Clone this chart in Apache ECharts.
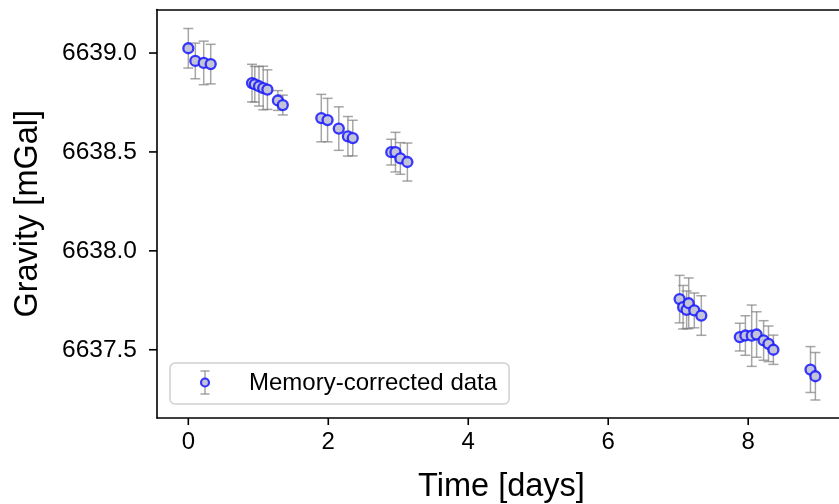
<!DOCTYPE html>
<html>
<head>
<meta charset="utf-8">
<script src="https://cdn.jsdelivr.net/npm/echarts@6/dist/echarts.min.js"></script>
<style>
html,body{margin:0;padding:0;background:#fff;overflow:hidden;}
#chart{width:860px;height:504px;}
</style>
</head>
<body>
<div id="chart"></div>
<script>
// ---- data ----
const timeDays = [0.00, 0.10, 0.22, 0.32, 0.91, 0.95, 1.01, 1.07, 1.13, 1.28, 1.35,
  1.90, 1.99, 2.15, 2.28, 2.35, 2.90, 2.96, 3.03, 3.13,
  7.02, 7.07, 7.12, 7.15, 7.23, 7.33, 7.88, 7.96, 8.05, 8.12, 8.22, 8.29, 8.36, 8.89, 8.96];
const gravity = [6639.024, 6638.960, 6638.950, 6638.944, 6638.848, 6638.842, 6638.832, 6638.823, 6638.815, 6638.760, 6638.737,
  6638.671, 6638.661, 6638.618, 6638.579, 6638.570, 6638.499, 6638.499, 6638.467, 6638.449,
  6637.756, 6637.715, 6637.702, 6637.735, 6637.699, 6637.673, 6637.564, 6637.572, 6637.571, 6637.577, 6637.547, 6637.530, 6637.500, 6637.400, 6637.366];
const gravityErr = [0.10, 0.09, 0.11, 0.10, 0.095, 0.09, 0.10, 0.11, 0.10, 0.05, 0.05,
  0.12, 0.11, 0.11, 0.10, 0.09, 0.065, 0.10, 0.08, 0.096,
  0.12, 0.11, 0.095, 0.128, 0.088, 0.10, 0.07, 0.10, 0.155, 0.115, 0.10, 0.09, 0.074, 0.116, 0.12];
const xTicks = [0, 2, 4, 6, 8];
const yTicks = [6637.5, 6638.0, 6638.5, 6639.0];
const seriesName = 'Memory-corrected data';
const xLabel = 'Time [days]';
const yLabel = 'Gravity [mGal]';

const FONT = 'Liberation Sans, Arial, sans-serif';
const X_MIN = -0.4475, X_MAX = 9.3975, Y_MIN = 6637.155, Y_MAX = 6639.22;
const pts = timeDays.map((t, i) => [t, gravity[i]]);
const errData = timeDays.map((t, i) => [t, gravity[i], gravityErr[i]]);
const xTickData = xTicks.map(v => [v, Y_MIN]);
const yTickData = yTicks.map(v => [X_MIN, v]);
const ERR_COLOR = 'rgba(128,128,128,0.7)';
const FACE = '#c4c4d8';
const EDGE = 'rgba(25,25,255,0.85)';
const TICK_STYLE = {stroke: '#000', lineWidth: 1.6};

const chart = echarts.init(document.getElementById('chart'), null, {renderer: 'canvas'});
chart.setOption({
  animation: false,
  backgroundColor: '#fff',
  grid: {left: 157, top: 9.5, width: 689, height: 408.5, show: false, containLabel: false, outerBoundsMode: 'none'},
  xAxis: [{
    type: 'value', min: X_MIN, max: X_MAX, position: 'bottom',
    name: xLabel, nameLocation: 'middle', nameGap: 53,
    nameTextStyle: {fontFamily: FONT, fontSize: 32.5, color: '#000'},
    axisLine: {show: true, onZero: false, lineStyle: {color: '#000', width: 1.6}},
    axisTick: {show: false},
    axisLabel: {fontFamily: FONT, fontSize: 24, color: '#000', margin: 12, customValues: xTicks, formatter: v => String(v)},
    splitLine: {show: false}
  }, {
    type: 'value', min: X_MIN, max: X_MAX, position: 'top',
    axisLine: {show: true, onZero: false, lineStyle: {color: '#000', width: 1.6}},
    axisTick: {show: false}, axisLabel: {show: false}, splitLine: {show: false}
  }],
  yAxis: [{
    type: 'value', min: Y_MIN, max: Y_MAX, position: 'left',
    name: yLabel, nameLocation: 'middle', nameGap: 112, nameRotate: 90,
    nameTextStyle: {fontFamily: FONT, fontSize: 32.5, color: '#000'},
    axisLine: {show: true, onZero: false, lineStyle: {color: '#000', width: 1.6}},
    axisTick: {show: false},
    axisLabel: {fontFamily: FONT, fontSize: 24.5, color: '#000', margin: 20, customValues: yTicks, formatter: v => v.toFixed(1)},
    splitLine: {show: false}
  }, {
    type: 'value', min: Y_MIN, max: Y_MAX, position: 'right',
    axisLine: {show: true, onZero: false, lineStyle: {color: '#000', width: 1.6}},
    axisTick: {show: false}, axisLabel: {show: false}, splitLine: {show: false}
  }],
  legend: {
    show: true, left: 170, top: 363,
    padding: [8, 12, 9, 8],
    backgroundColor: '#fff',
    borderColor: '#d0d0d0', borderWidth: 1.5, borderRadius: 5,
    itemWidth: 54, itemHeight: 9,
    data: [{name: seriesName, icon: 'none'}],
    formatter: '{a|{name}}',
    textStyle: {
      rich: {a: {fontFamily: FONT, fontSize: 24, color: '#000', padding: [0, 0, 0, 12], lineHeight: 26}}
    }
  },
  graphic: [
    {type: 'line', z: 100, shape: {x1: 205, y1: 371, x2: 205, y2: 394}, style: {stroke: ERR_COLOR, lineWidth: 1.5}},
    {type: 'line', z: 100, shape: {x1: 200.5, y1: 371, x2: 209.5, y2: 371}, style: {stroke: ERR_COLOR, lineWidth: 1.5}},
    {type: 'line', z: 100, shape: {x1: 200.5, y1: 394, x2: 209.5, y2: 394}, style: {stroke: ERR_COLOR, lineWidth: 1.5}},
    {type: 'circle', z: 101, shape: {cx: 205, cy: 382.5, r: 4}, style: {fill: FACE, stroke: EDGE, lineWidth: 2.2}}
  ],
  series: [
    {
      // x-axis tick marks, placed through the axis scale
      type: 'custom', name: 'xticks', silent: true, clip: false, z: 5,
      xAxisIndex: 0, yAxisIndex: 0, data: xTickData,
      renderItem: function (params, api) {
        const p = api.coord([api.value(0), api.value(1)]);
        return {type: 'line', shape: {x1: p[0], y1: p[1], x2: p[0], y2: p[1] + 7}, style: TICK_STYLE};
      }
    },
    {
      // y-axis tick marks, placed through the axis scale
      type: 'custom', name: 'yticks', silent: true, clip: false, z: 5,
      xAxisIndex: 0, yAxisIndex: 0, data: yTickData,
      renderItem: function (params, api) {
        const p = api.coord([api.value(0), api.value(1)]);
        return {type: 'line', shape: {x1: p[0] - 8, y1: p[1], x2: p[0], y2: p[1]}, style: TICK_STYLE};
      }
    },
    {
      type: 'custom', name: 'errorbars', silent: true, clip: false, z: 2,
      data: errData,
      renderItem: function (params, api) {
        const x = api.value(0), y = api.value(1), e = api.value(2);
        const top = api.coord([x, y + e]);
        const bot = api.coord([x, y - e]);
        const hw = 5;
        const st = {stroke: ERR_COLOR, lineWidth: 1.5};
        return {type: 'group', children: [
          {type: 'line', shape: {x1: top[0], y1: top[1], x2: bot[0], y2: bot[1]}, style: st},
          {type: 'line', shape: {x1: top[0] - hw, y1: top[1], x2: top[0] + hw, y2: top[1]}, style: st},
          {type: 'line', shape: {x1: bot[0] - hw, y1: bot[1], x2: bot[0] + hw, y2: bot[1]}, style: st}
        ]};
      }
    },
    {
      type: 'scatter', name: seriesName, z: 3,
      data: pts, symbol: 'circle', symbolSize: 10,
      itemStyle: {color: FACE, borderColor: EDGE, borderWidth: 2.3, opacity: 1}
    }
  ]
});
</script>
</body>
</html>
